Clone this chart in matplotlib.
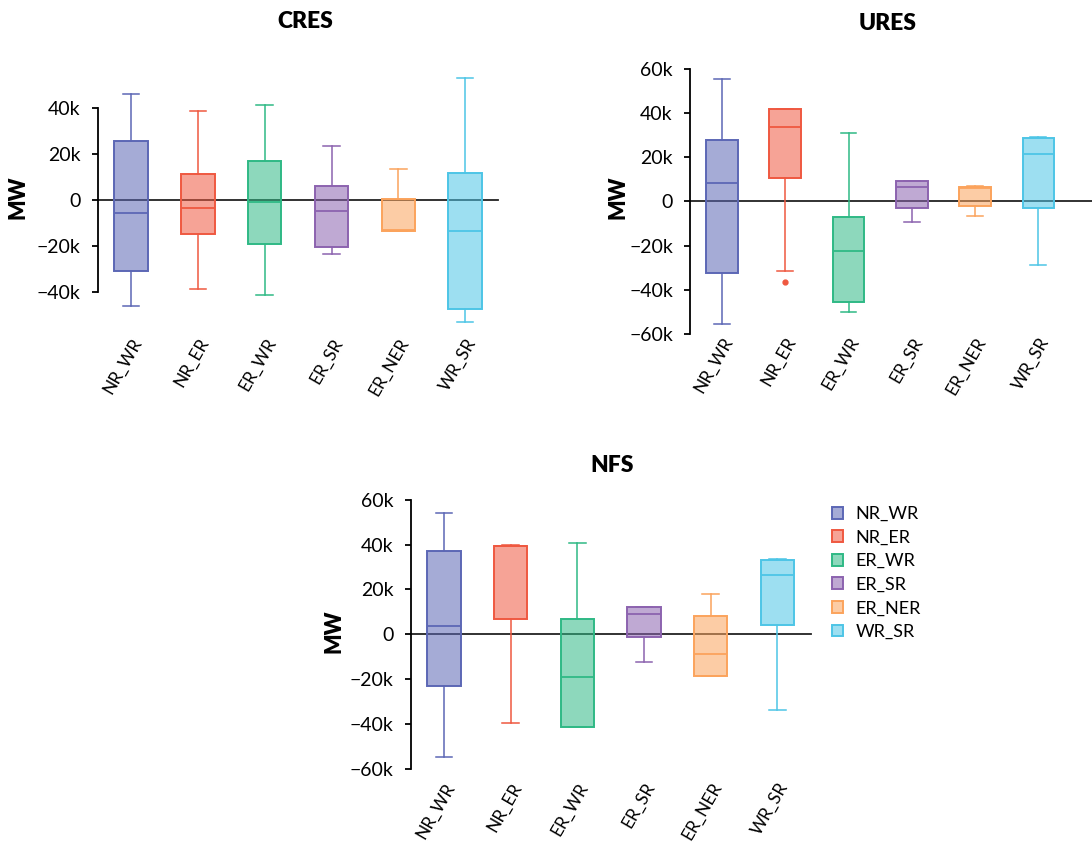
import matplotlib
matplotlib.use('Agg')
import matplotlib.pyplot as plt
from matplotlib.patches import Patch
from matplotlib.ticker import FuncFormatter

plt.rcParams['font.family'] = ['Lato', 'DejaVu Sans']

groups = ['NR_WR', 'NR_ER', 'ER_WR', 'ER_SR', 'ER_NER', 'WR_SR']
edge_colors = ['#5C67B5', '#EF5840', '#2FB985', '#8C63AF', '#FBA35C', '#4DC5E6']

# box statistics in thousands of MW
cres_whislo = [-46.2, -39.0, -41.3, -23.6, -13.6, -53.2]
cres_q1 = [-31.0, -15.1, -19.1, -20.7, -13.4, -47.5]
cres_med = [-5.6, -3.7, -0.9, -5.0, -13.2, -13.5]
cres_q3 = [25.7, 11.2, 16.7, 6.0, 0.4, 11.6]
cres_whishi = [45.9, 38.7, 41.0, 23.3, 13.2, 53.0]
cres_fliers = [[], [], [], [], [], []]

ures_whislo = [-55.5, -31.4, -50.0, -9.1, -6.8, -28.8]
ures_q1 = [-32.3, 10.8, -45.6, -3.0, -2.1, -3.0]
ures_med = [8.3, 33.6, -22.6, 6.5, 6.1, 21.5]
ures_q3 = [27.9, 41.8, -7.0, 9.2, 6.8, 28.9]
ures_whishi = [55.8, 41.8, 31.1, 9.5, 7.1, 29.2]
ures_fliers = [[], [-36.5], [], [], [], []]

nfs_whislo = [-54.5, -39.6, -41.5, -12.4, -18.8, -33.8]
nfs_q1 = [-23.1, 6.8, -41.2, -1.0, -18.5, 4.0]
nfs_med = [3.9, 39.2, -19.1, 9.2, -8.7, 26.4]
nfs_q3 = [37.3, 39.4, 7.0, 12.0, 8.1, 33.3]
nfs_whishi = [54.2, 39.6, 40.9, 12.2, 18.1, 33.5]
nfs_fliers = [[], [], [], [], [], []]


def make_stats(lo, q1, med, q3, hi, fl):
    stats = []
    for i in range(len(groups)):
        stats.append({'whislo': lo[i] * 1000, 'q1': q1[i] * 1000,
                      'med': med[i] * 1000, 'q3': q3[i] * 1000,
                      'whishi': hi[i] * 1000,
                      'fliers': [v * 1000 for v in fl[i]]})
    return stats


def kfmt(v, pos):
    if v == 0:
        return '0'
    return f'{v / 1000:.0f}k'.replace('-', '\u2212')


def draw_panel(ax, stats, yticks, ylim, xpad, zero_xmax=1.0):
    ax.axhline(0, xmin=0, xmax=zero_xmax, color='#222222', lw=1.3, zorder=1,
               clip_on=False)
    pos = list(range(1, len(groups) + 1))
    art = ax.bxp(stats, positions=pos, widths=0.5, capwidths=0.25,
                 patch_artist=True, showfliers=True)
    for i, c in enumerate(edge_colors):
        box = art['boxes'][i]
        box.set_facecolor(matplotlib.colors.to_rgba(c, 0.55))
        box.set_edgecolor(c)
        box.set_linewidth(1.4)
        art['medians'][i].set_color(c)
        art['medians'][i].set_linewidth(1.3)
        for ln in art['whiskers'][2 * i:2 * i + 2] + art['caps'][2 * i:2 * i + 2]:
            ln.set_color(c)
            ln.set_linewidth(1.1)
        fl = art['fliers'][i]
        fl.set_marker('o')
        fl.set_markerfacecolor(c)
        fl.set_markeredgecolor(c)
        fl.set_markersize(3.5)
    ax.set_xlim(0.5, 6.5)
    ax.set_ylim(*ylim)
    ax.set_yticks(yticks)
    ax.yaxis.set_major_formatter(FuncFormatter(kfmt))
    ax.spines['left'].set_bounds(yticks[0], yticks[-1])
    for s in ['top', 'right', 'bottom']:
        ax.spines[s].set_visible(False)
    ax.spines['left'].set_linewidth(1.3)
    ax.set_xticks(pos, groups, rotation=60, ha='right', rotation_mode='anchor')
    ax.tick_params(axis='x', length=0, pad=xpad, labelsize=12.5)
    ax.tick_params(axis='y', length=4.5, width=1.3, labelsize=14, pad=8)


fig = plt.figure(figsize=(10.92, 8.48), dpi=100)

ax1 = fig.add_axes([0.0895, 0.6126, 0.367, 0.3038])
draw_panel(ax1, make_stats(cres_whislo, cres_q1, cres_med, cres_q3, cres_whishi, cres_fliers),
           [-40000, -20000, 0, 20000, 40000], (-56000, 56000), 5)

ax2 = fig.add_axes([0.6321, 0.6065, 0.3478, 0.3118])
draw_panel(ax2, make_stats(ures_whislo, ures_q1, ures_med, ures_q3, ures_whishi, ures_fliers),
           [-60000, -40000, -20000, 0, 20000, 40000, 60000], (-60000, 60000), 0.5, 1.06)

ax3 = fig.add_axes([0.3761, 0.0932, 0.3663, 0.3176])
draw_panel(ax3, make_stats(nfs_whislo, nfs_q1, nfs_med, nfs_q3, nfs_whishi, nfs_fliers),
           [-60000, -40000, -20000, 0, 20000, 40000, 60000], (-60000, 60000), 8)

fig.text(305 / 1092, 1 - 22 / 848, 'CRES', ha='center', va='center', fontsize=16.5, fontweight='heavy')
fig.text(888 / 1092, 1 - 23 / 848, 'URES', ha='center', va='center', fontsize=16.5, fontweight='heavy')
fig.text(611.7 / 1092, 1 - 466 / 848, 'NFS', ha='center', va='center', fontsize=16.5, fontweight='heavy')

for x, y in [(18.5, 197), (618, 197), (333.5, 631.7)]:
    fig.text(x / 1092, 1 - y / 848, 'MW', rotation=90, ha='center', va='center',
             fontsize=15.5, fontweight='heavy')

handles = [Patch(facecolor=matplotlib.colors.to_rgba(c, 0.55), edgecolor=c, linewidth=1.4)
           for c in edge_colors]
fig.legend(handles, groups, loc='upper left', bbox_to_anchor=(0.7616, 0.4033),
           frameon=False, fontsize=13, handlelength=0.63, handleheight=0.63,
           handletextpad=0.7, labelspacing=0.42, borderpad=0, borderaxespad=0)

fig.savefig('out.png', dpi=100)
